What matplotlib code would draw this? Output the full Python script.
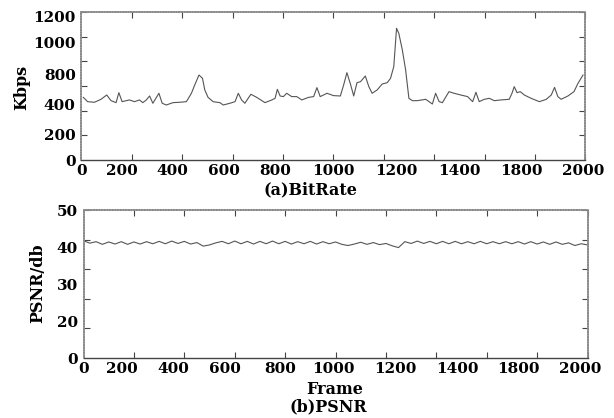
import numpy as np
import matplotlib
matplotlib.use("Agg")
import matplotlib.pyplot as plt
from matplotlib.ticker import FixedLocator

# ---------------- data ----------------
# (a) BitRate (Kbps) vs frame
br_frames = [8, 25, 52, 78, 101, 118, 138, 149, 162, 178, 191, 211, 231, 244, 258, 271, 284,
             308, 321, 337, 364, 390, 417, 437, 450, 467, 481, 490, 503, 523, 550, 563, 590,
             610, 623, 636, 649, 673, 696, 729, 756, 769, 778, 789, 802, 815, 835, 855, 875,
             902, 922, 935, 948, 975, 1001, 1028, 1041, 1054, 1068, 1081, 1094, 1108, 1127,
             1141, 1154, 1174, 1194, 1214, 1227, 1240, 1251, 1260, 1274, 1287, 1300, 1314,
             1333, 1367, 1393, 1406, 1420, 1433, 1459, 1479, 1506, 1533, 1553, 1566, 1579,
             1599, 1619, 1639, 1665, 1698, 1709, 1718, 1729, 1742, 1758, 1785, 1818, 1845,
             1865, 1878, 1891, 1904, 1931, 1955, 1971, 1991]
br_kbps = [508, 473, 468, 492, 527, 481, 465, 546, 473, 481, 487, 473, 487, 465, 487, 519, 460,
           541, 460, 446, 465, 468, 473, 541, 608, 689, 662, 568, 508, 473, 465, 446, 460,
           473, 541, 487, 460, 533, 508, 465, 487, 500, 573, 519, 514, 541, 514, 514, 487,
           508, 514, 587, 514, 541, 522, 519, 608, 708, 616, 519, 627, 635, 681,
           595, 541, 568, 616, 627, 662, 757, 1068, 1027, 892, 730, 500, 481,
           481, 492, 454, 541, 473, 465, 554, 541, 527, 514, 473, 549, 473,
           492, 500, 481, 487, 492, 541, 595, 546, 554, 527, 500, 473, 492,
           527, 589, 514, 492, 519, 554, 622, 689]

# (b) PSNR (db) vs frame, sampled every 25 frames
psnr_frames = np.arange(0, 2001, 25)
psnr_db = [39.6, 38.8, 39.3, 38.4, 39.2, 38.5, 39.3, 38.4, 39.2, 38.5,
           39.3, 38.6, 39.4, 38.6, 39.5, 38.7, 39.4, 38.5, 39.0, 37.8,
           38.2, 38.9, 39.4, 38.6, 39.5, 38.6, 39.4, 38.5, 39.4, 38.6,
           39.5, 38.6, 39.4, 38.5, 39.3, 38.6, 39.4, 38.5, 39.3, 38.6,
           39.2, 38.4, 38.0, 38.5, 39.1, 38.4, 39.0, 38.3, 38.7, 37.9,
           37.3, 39.3, 38.7, 39.5, 38.7, 39.4, 38.6, 39.4, 38.6, 39.4,
           38.6, 39.3, 38.6, 39.4, 38.6, 39.3, 38.6, 39.3, 38.6, 39.3,
           38.5, 39.3, 38.5, 39.2, 38.4, 39.2, 38.4, 38.9, 38.0, 38.6,
           38.2]

# tick marks
x_ticks = [0, 200, 400, 600, 800, 1000, 1200, 1400, 1600, 1800, 2000]
br_yticks = [0, 200, 400, 600, 800, 1000, 1200]
psnr_yticks = [0, 10, 20, 30, 40, 50]

# tick labels as printed (some labels missing / displaced in the original)
x_labels = ["0", "200", "400", "600", "800", "1000", "1200", "1400", "1800", "2000"]
br_x_label_pos = [0, 161, 360, 566, 768, 999, 1249, 1499, 1745, 1991]
psnr_x_label_pos = [0, 153, 355, 561, 780, 990, 1236, 1482, 1724, 1970]
br_y_labels = ["0", "200", "400", "800", "1000", "1200"]
br_y_label_pos = [0, 203, 446, 697, 949, 1160]
psnr_y_labels = ["0", "20", "30", "40", "50"]
psnr_y_label_pos = [0, 12.2, 25, 37.2, 49.7]

# ---------------- figure ----------------
plt.rcParams['font.family'] = ['DejaVu Serif']
plt.rcParams['font.weight'] = 'bold'
FS = 11
W, H = 614, 418
fig = plt.figure(figsize=(W / 100, H / 100), dpi=100)

ax1 = fig.add_axes([81.3 / W, 1 - 160 / H, 504 / W, 148 / H])
ax2 = fig.add_axes([83.5 / W, 1 - 358 / H, 504 / W, 148 / H])

line_kw = dict(color='#555555', lw=0.8)
ax1.plot(br_frames, br_kbps, **line_kw)
ax2.plot(psnr_frames, psnr_db, **line_kw)


def style(ax, yticks, xlabpos, ylabpos, ylabels, ylim):
    ax.set_xlim(0, 2000)
    ax.set_ylim(*ylim)
    ax.xaxis.set_minor_locator(FixedLocator(x_ticks))
    ax.yaxis.set_minor_locator(FixedLocator(yticks))
    ax.set_xticks(xlabpos)
    ax.set_xticklabels(x_labels, fontweight='bold')
    ax.set_yticks(ylabpos)
    ax.set_yticklabels(ylabels, fontweight='bold')
    ax.tick_params(which='minor', direction='in', length=4, width=0.8,
                   color='#444', top=True, right=True, bottom=True, left=True)
    ax.tick_params(which='major', length=0, labelsize=FS, pad=4)
    ax.tick_params(axis='x', which='major', pad=3)
    for s in ['top', 'left', 'right']:
        ax.spines[s].set_color('#8a8a8a')
        ax.spines[s].set_linewidth(1.2)
        ax.spines[s].set_linestyle((0, (1, 0.6)))
    ax.spines['bottom'].set_color('#444')
    ax.spines['bottom'].set_linewidth(1.0)


style(ax1, br_yticks, br_x_label_pos, br_y_label_pos, br_y_labels, (0, 1200))
style(ax2, psnr_yticks, psnr_x_label_pos, psnr_y_label_pos, psnr_y_labels, (0, 50))

# axis titles / captions
tk = dict(fontsize=11.5, fontweight='bold')
fig.text(22 / W, 1 - 87 / H, "Kbps", rotation=90, ha='center', va='center', **tk)
fig.text(38 / W, 1 - 283 / H, "PSNR/db", rotation=90, ha='center', va='center', **tk)
fig.text(310 / W, 1 - 190 / H, "(a)BitRate", ha='center', va='center', **tk)
fig.text(335 / W, 1 - 390 / H, "Frame", ha='center', va='center', **tk)
fig.text(328 / W, 1 - 407 / H, "(b)PSNR", ha='center', va='center', **tk)

fig.savefig("out.png", dpi=100)
